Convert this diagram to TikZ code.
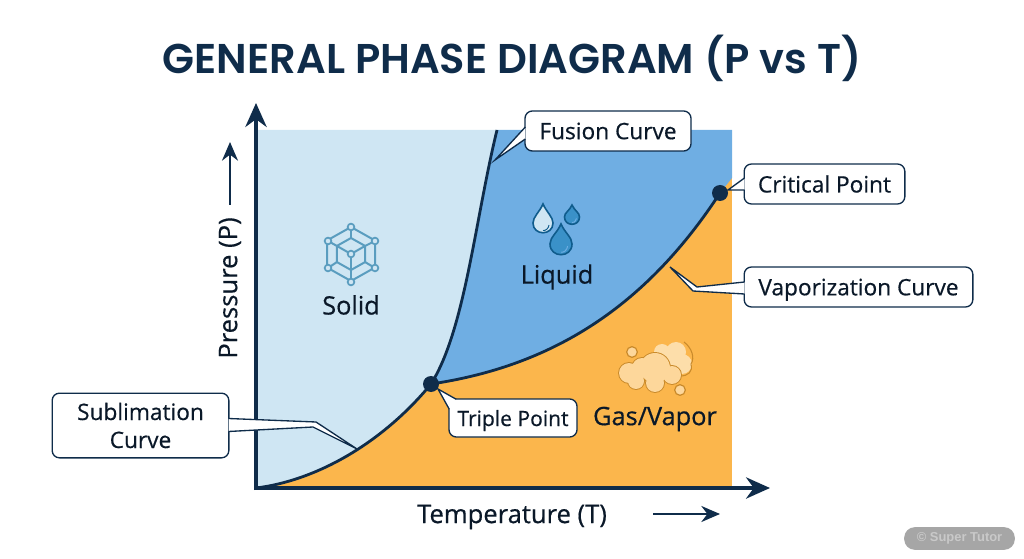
\documentclass[tikz,border=0pt]{standalone}
\usepackage{fontspec}
\setmainfont[RawFeature={embolden=0.5}]{Open Sans}
\newfontfamily\titlefont{Poppins SemiBold}
\newfontfamily\markfont{Liberation Sans}
\usetikzlibrary{arrows.meta,calc}

\definecolor{navy}{RGB}{15,44,74}
\definecolor{inktext}{RGB}{10,24,40}
\definecolor{solidblue}{RGB}{207,230,243}
\definecolor{liquidblue}{RGB}{111,174,227}
\definecolor{gasorange}{RGB}{251,182,76}
\definecolor{crystal}{RGB}{90,157,191}
\definecolor{dropline}{RGB}{16,92,140}
\definecolor{dropdark}{RGB}{58,145,200}
\definecolor{cloudline}{RGB}{201,138,43}
\definecolor{cloudfill}{RGB}{253,215,155}
\definecolor{cloudback}{RGB}{253,222,170}

\tikzset{every picture/.style={line width=0.75pt}}
\tikzset{
  phaseline/.style={color=navy,line width=2.1pt},
  axisline/.style={color=navy,line width=2.4pt,-{Stealth[length=18pt,width=16pt]}},
  sideline/.style={color=navy,line width=1.7pt,-{Stealth[length=14pt,width=12pt]}},
  phasedot/.style={circle,fill=navy,inner sep=0pt,minimum size=12pt},
  calloutbox/.style={draw=navy,fill=white,rounded corners=5.5pt,line width=1pt,inner sep=0pt,font=\fontsize{17}{21}\selectfont,text=inktext,align=center},
  callouttail/.style={draw=navy,fill=white,line width=1pt,line join=miter},
  phaselabel/.style={inner sep=0pt,font=\fontsize{19}{23}\selectfont,text=inktext},
  axislabel/.style={inner sep=0pt,font=\fontsize{19.2}{23}\selectfont,text=inktext},
  crystalline/.style={color=crystal,line width=1.5pt},
  crystaldot/.style={draw=crystal,fill=solidblue,line width=1.3pt},
}

\begin{document}
\begin{tikzpicture}[x=0.75pt,y=0.75pt,yscale=-1,xscale=1]
\useasboundingbox (0,0) rectangle (1024,559);

\coordinate (origin) at (256,488);
\coordinate (triple) at (431,384);
\coordinate (critical) at (720,193);
\coordinate (fustop) at (497,130);
\coordinate (vaptop) at (732,178);

%Phase regions
\fill [gasorange] (256,130) rectangle (732,488);
\fill [solidblue] (256,130) -- (fustop) .. controls (475,220) and (465,330) .. (triple) .. controls (385,440) and (320,480) .. (origin) -- cycle;
\fill [liquidblue] (fustop) -- (732,130) -- (vaptop) -- (critical) .. controls (650,300) and (560,365) .. (triple) .. controls (465,330) and (475,220) .. (fustop) -- cycle;

%Phase boundaries
\draw [phaseline] (origin) .. controls (320,480) and (385,440) .. (triple);
\draw [phaseline] (triple) .. controls (465,330) and (475,220) .. (fustop);
\draw [phaseline] (triple) .. controls (560,365) and (650,300) .. (critical);

%Axes
\coordinate (ptop) at (256,103);
\coordinate (tright) at (770,488);
\draw [axisline] (256,490) -- (ptop);
\draw [axisline] (254,488) -- (tright);

%Points
\node (tripledot) [phasedot] at (triple) {};
\node (criticaldot) [phasedot] at (critical) {};

%Solid icon
\foreach \r in {27,16} {
  \draw [crystalline] (351,254-\r) -- ++(24*\r/27,13.5*\r/27) -- ++(0,27*\r/27) -- ++(-24*\r/27,13.5*\r/27) -- ++(-24*\r/27,-13.5*\r/27) -- ++(0,-27*\r/27) -- cycle;
}
\foreach \a/\b/\c/\d in {351/227/351/238,375/241/365/246,375/268/365/262,351/282/351/270,328/268/337/262,328/241/337/246,351/254/337/246,351/254/365/246,351/254/351/270} {
  \draw [crystalline] (\a,\b) -- (\c,\d);
}
\foreach \a/\b in {351/227,375/241,375/268,351/282,328/268,328/241,351/254} {
  \draw [crystaldot] (\a,\b) circle (2.5pt);
}

%Liquid icon
\foreach \cx/\cy/\rr/\tipy/\dropfill/\glint in {543/223/10/204/solidblue/dropline,572/217/7.5/205/dropdark/liquidblue,561/244/11/224/dropdark/liquidblue} {
  \draw [color=dropline,fill=\dropfill,line width=1.2pt] (\cx,\tipy) .. controls (\cx+\rr*0.35,\tipy+\rr*0.8) and (\cx+\rr,\cy-\rr*0.6) .. (\cx+\rr,\cy) .. controls (\cx+\rr,\cy+\rr*1.3) and (\cx-\rr,\cy+\rr*1.3) .. (\cx-\rr,\cy) .. controls (\cx-\rr,\cy-\rr*0.6) and (\cx-\rr*0.35,\tipy+\rr*0.8) .. (\cx,\tipy) -- cycle;
  \draw [color=\glint,line width=0.7pt] (\cx+\rr*0.6,\cy+\rr*0.2) .. controls (\cx+\rr*0.55,\cy+\rr*0.6) and (\cx+\rr*0.2,\cy+\rr*0.8) .. (\cx,\cy+\rr*0.75);
}

%Gas icon
\foreach \a/\b/\c in {662/352/8,676/352/10,682/364/10,668/362/13} {
  \fill [cloudback] (\a,\b) circle (\c*0.75pt);
}
\draw [cloudline,line width=0.8pt] (684,342) .. controls (692,348) and (695,358) .. (691,364) .. controls (693,372) and (688,376) .. (680,376);
\foreach \a/\b/\c in {629/373/10,642/368/10,655/368/15,672/375/9,655/383/9,636/381/8} {
  \draw [cloudline,fill=cloudline,line width=1.4pt] (\a,\b) circle (\c*0.75pt);
}
\foreach \a/\b/\c in {629/373/10,642/368/10,655/368/15,672/375/9,655/383/9,636/381/8} {
  \fill [cloudfill] (\a,\b) circle (\c*0.75pt);
}
\foreach \a/\b in {632/352,680/390} {
  \draw [cloudline,fill=cloudfill,line width=0.9pt] (\a,\b) circle (4pt);
}

% Text Node
\draw (512,58) node (title) [inner sep=0pt,color=navy,font=\titlefont\fontsize{31.2}{37}\selectfont] {GENERAL PHASE DIAGRAM (P vs T)};
% Text Node
\draw (351,305) node (solidlabel) [phaselabel] {Solid};
% Text Node
\draw (557,277) node (liquidlabel) [phaselabel] {Liquid};
% Text Node
\draw (655,419) node (gaslabel) [phaselabel] {Gas/Vapor};
% Text Node
\draw (512,517) node (templabel) [axislabel] {Temperature (T)};
% Text Node
\draw (230,288) node (preslabel) [axislabel,rotate=90] {Pressure (P)};

%Side arrows
\coordinate (presfrom) at (230,205);
\coordinate (presto) at (230,142);
\coordinate (tempfrom) at (653,514);
\coordinate (tempto) at (720,514);
\draw [sideline] (presfrom) -- (presto);
\draw [sideline] (tempfrom) -- (tempto);

%Callouts
\node (fusionbox) [calloutbox,minimum width=124.5pt,minimum height=30pt] at (608,131) {Fusion Curve};
\coordinate (fusiontip) at (495,160);
\draw [callouttail] ($(fusionbox.west)+(1,-4)$) -- (fusiontip) -- ($(fusionbox.west)+(1,8)$);

\node (criticalbox) [calloutbox,minimum width=120.5pt,minimum height=30pt] at (824.5,184) {Critical Point};
\coordinate (criticaltip) at (728,190);
\draw [callouttail] ($(criticalbox.west)+(1,-6)$) -- (criticaltip) -- ($(criticalbox.west)+(1,6)$);

\node (vapbox) [calloutbox,minimum width=171.5pt,minimum height=30pt,text depth=0pt] at (858.5,287) {Vaporization Curve};
\coordinate (vaptip) at (670,267);
\draw [callouttail] ($(vapbox.west)+(1,-5)$) -- (697,287) -- (vaptip) -- (693,291) -- ($(vapbox.west)+(1,7)$);

\node (sublbox) [calloutbox,minimum width=132.5pt,minimum height=48.5pt] at (140.5,425.5) {Sublimation\\Curve};
\coordinate (subltip) at (357,449);
\draw [callouttail] ($(sublbox.east)+(-1,-7)$) -- (316,422) -- (subltip) -- (313,427) -- ($(sublbox.east)+(-1,6)$);

\node (triplebox) [calloutbox,minimum width=96pt,minimum height=28.5pt,text depth=0pt,font=\fontsize{15.8}{19}\selectfont] at (513,418) {Triple Point};
\coordinate (tripletip) at (438,389);
\draw [callouttail] ($(triplebox.north west)+(8,1)$) -- (tripletip) -- ($(triplebox.north west)+(1,11)$);

%Watermark
\node (mark) [fill=black!35,rounded corners=8pt,minimum width=83pt,minimum height=17pt,inner sep=0pt,text=black!21,font=\markfont\bfseries\fontsize{9.7}{11}\selectfont] at (959.5,538.5) {© Super Tutor};

\end{tikzpicture}
\end{document}
